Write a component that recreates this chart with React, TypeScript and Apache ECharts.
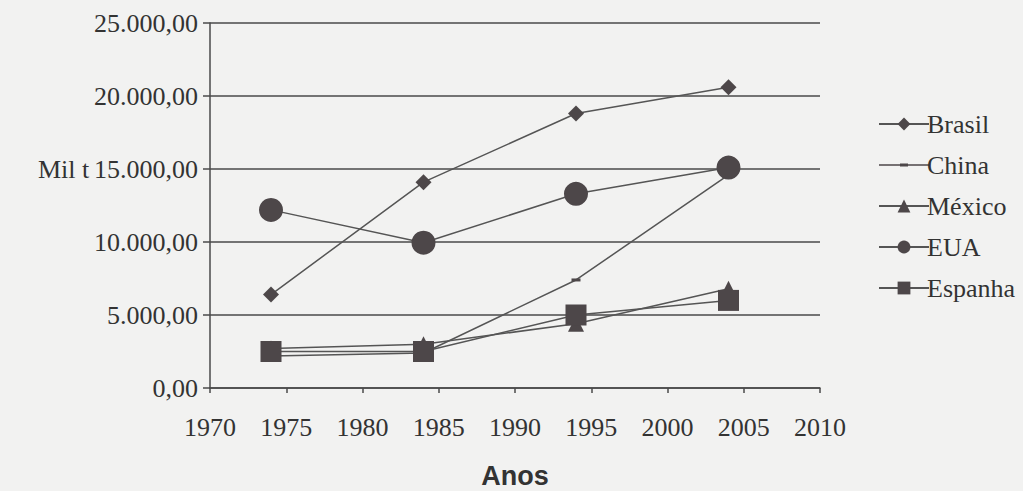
import React, { useEffect, useRef } from "react";
import * as echarts from "echarts";

const years = [1974, 1984, 1994, 2004];
const brasil = [6400, 14100, 18800, 20600];
const china = [2200, 2400, 7400, 14600];
const mexico = [2700, 3000, 4400, 6800];
const eua = [12200, 9950, 13300, 15100];
const espanha = [2500, 2500, 5000, 6000];

const seriesNames = ["Brasil", "China", "México", "EUA", "Espanha"];
const xTicks = { min: 1970, max: 2010, interval: 5 };
const yTicks = { min: 0, max: 25000, interval: 5000 };

const fmtBR = (v: number) =>
  v.toLocaleString("pt-BR", { minimumFractionDigits: 2, maximumFractionDigits: 2 });

export default function App() {
  const ref = useRef<HTMLDivElement>(null);
  useEffect(() => {
    if (!ref.current) return;
    const chart = echarts.init(ref.current, null, { renderer: "svg" });
    const lineColor = "#555555";
    const markColor = "#4d4749";
    const textColor = "#333333";
    const serif = "Liberation Serif";
    const mk = (name: string, data: number[], symbol: string, size: any) => ({
      name,
      type: "line",
      data: years.map((y, i) => [y, data[i]]),
      symbol,
      symbolSize: size,
      lineStyle: { color: lineColor, width: 1.5 },
      itemStyle: { color: markColor },
      emphasis: { disabled: true },
    });
    chart.setOption({
      animation: false,
      backgroundColor: "#f2f2f1",
      textStyle: { fontFamily: serif, color: textColor },
      grid: { left: 210, right: 203, top: 23, bottom: 103, outerBoundsMode: "none", containLabel: false },
      legend: {
        orient: "vertical",
        left: 873,
        top: 106,
        itemWidth: 50,
        itemHeight: 16,
        itemGap: 15,
        formatter: (name: string) => "{s|" + name + "}",
        textStyle: {
          fontFamily: serif,
          fontSize: 26,
          color: textColor,
          padding: [0, 0, 0, -7],
          rich: { s: { fontFamily: serif, fontSize: 26, color: textColor } },
        },
        data: seriesNames.map((n) =>
          n === "China"
            ? { name: n, icon: "path://M0,7.25 H50 V8.75 H0 Z M21,6.5 H29 V9.5 H21 Z" }
            : { name: n }
        ),
      },
      graphic: [
        {
          type: "text",
          left: 38,
          top: 156,
          style: { text: "Mil t", font: "26px 'Liberation Serif', serif", fill: textColor },
        },
      ],
      xAxis: {
        type: "value",
        min: xTicks.min,
        max: xTicks.max,
        interval: xTicks.interval,
        name: "Anos",
        nameLocation: "middle",
        nameGap: 74,
        nameTextStyle: {
          fontFamily: "Liberation Sans",
          fontWeight: "bold",
          fontSize: 27,
          color: textColor,
        },
        axisLine: { lineStyle: { color: "#4a4a4a", width: 1.5 } },
        axisTick: { show: true, inside: false, length: 5, lineStyle: { color: "#4a4a4a", width: 1.5 } },
        axisLabel: {
          fontFamily: serif,
          fontSize: 26,
          color: textColor,
          margin: 26,
          formatter: (v: number) => String(v),
        },
        splitLine: { show: false },
      },
      yAxis: {
        type: "value",
        min: yTicks.min,
        max: yTicks.max,
        interval: yTicks.interval,
        axisLine: { show: true, lineStyle: { color: "#4a4a4a", width: 1.5 } },
        axisTick: { show: true, length: 7, lineStyle: { color: "#4a4a4a", width: 1.5 } },
        axisLabel: {
          fontFamily: serif,
          fontSize: 26,
          color: textColor,
          margin: 12,
          formatter: (v: number) => fmtBR(v),
        },
        splitLine: { show: true, lineStyle: { color: "#4a4a4a", width: 1.5 } },
      },
      series: [
        mk("Brasil", brasil, "diamond", 16),
        mk("China", china, "rect", [9, 3]),
        mk("México", mexico, "triangle", 16),
        mk("EUA", eua, "circle", 24),
        mk("Espanha", espanha, "rect", 21),
      ],
    });
    return () => chart.dispose();
  }, []);
  return <div ref={ref} style={{ width: 1023, height: 491, position: "absolute", left: 0, top: 0 }} />;
}
